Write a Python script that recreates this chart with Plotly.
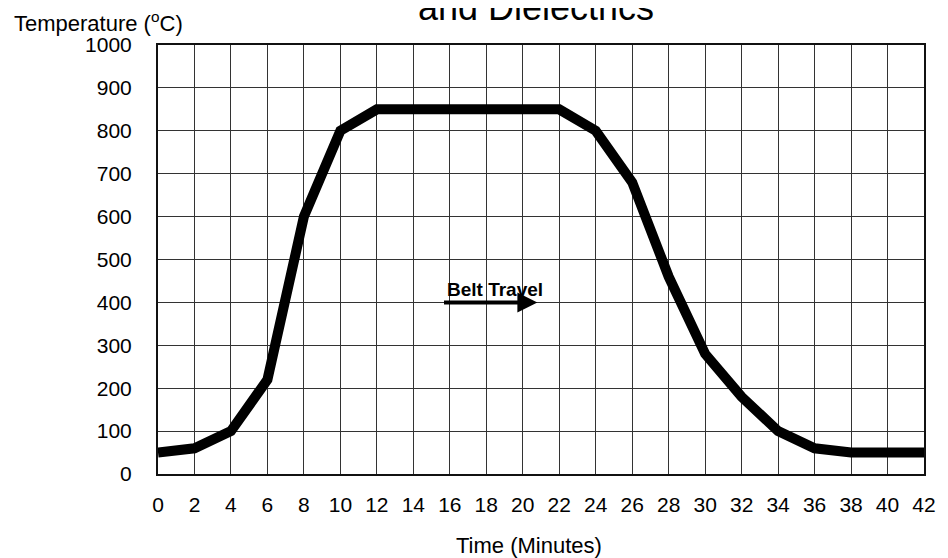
import plotly.graph_objects as go

time_min = [0, 2, 4, 6, 8, 10, 12, 14, 16, 18, 20, 22, 24, 26, 28, 30, 32, 34, 36, 38, 40, 42]
temp_c = [50, 60, 100, 220, 600, 800, 850, 850, 850, 850, 850, 850, 800, 680, 460, 280, 180, 100, 60, 50, 50, 50]
x_ticks = list(range(0, 43, 2))
y_ticks = list(range(0, 1001, 100))

fig = go.Figure()
fig.add_trace(go.Scatter(x=time_min, y=temp_c, mode="lines",
                         line=dict(color="black", width=10), hoverinfo="skip"))

# page has an 8px body margin; target plot area: x 158..934, y 45..474 (page px)
OFF = 8
W, H = 940, 550
L, R, T, B = 158 - OFF, 14, 45 - OFF, 84
pw = W - L - R
ph = H - T - B


def px(xp):
    return (xp - OFF - L) / pw


def py(yp):
    return (T + ph - (yp - OFF)) / ph


fig.update_layout(
    width=W, height=H,
    margin=dict(l=L, r=R, t=T, b=B),
    paper_bgcolor="white", plot_bgcolor="white",
    showlegend=False,
    font=dict(family="Liberation Sans, Arial, sans-serif", color="black", size=21),
    xaxis=dict(range=[0, 42], tickvals=x_ticks, ticktext=[str(v) for v in x_ticks],
               showgrid=True, gridcolor="#333", gridwidth=1, zeroline=False,
               showline=True, linecolor="#111", linewidth=2, mirror=True,
               ticks="", ticklabelstandoff=11, tickfont=dict(size=21)),
    yaxis=dict(range=[0, 1000], tickvals=y_ticks, ticktext=[str(v) for v in y_ticks],
               showgrid=True, gridcolor="#333", gridwidth=1, zeroline=False,
               showline=True, linecolor="#111", linewidth=2, mirror=True,
               ticks="", ticklabelstandoff=20, tickfont=dict(size=21)),
    annotations=[
        dict(text="Time (Minutes)", xref="paper", yref="paper", x=px(534), y=py(545),
             xanchor="center", yanchor="middle", showarrow=False, font=dict(size=22)),
        dict(text="Temperature (<sup>o</sup>C)", xref="paper", yref="paper",
             x=px(10), y=py(22), xanchor="left", yanchor="middle",
             showarrow=False, font=dict(size=22)),
        dict(text="and Dielectrics", xref="paper", yref="paper", x=px(541),
             y=py(30), xanchor="center", yanchor="bottom", showarrow=False,
             font=dict(size=36)),
        dict(text="<b>Belt Travel</b>", x=18.5, y=430, xref="x", yref="y", showarrow=False,
             font=dict(size=19), xanchor="center", yanchor="middle"),
        dict(text="", x=20.8, y=400, ax=15.6, ay=400, xref="x", yref="y", axref="x", ayref="y",
             showarrow=True, arrowhead=2, arrowsize=1, arrowwidth=4, arrowcolor="black"),
    ],
)

fig.write_html("out.html")
